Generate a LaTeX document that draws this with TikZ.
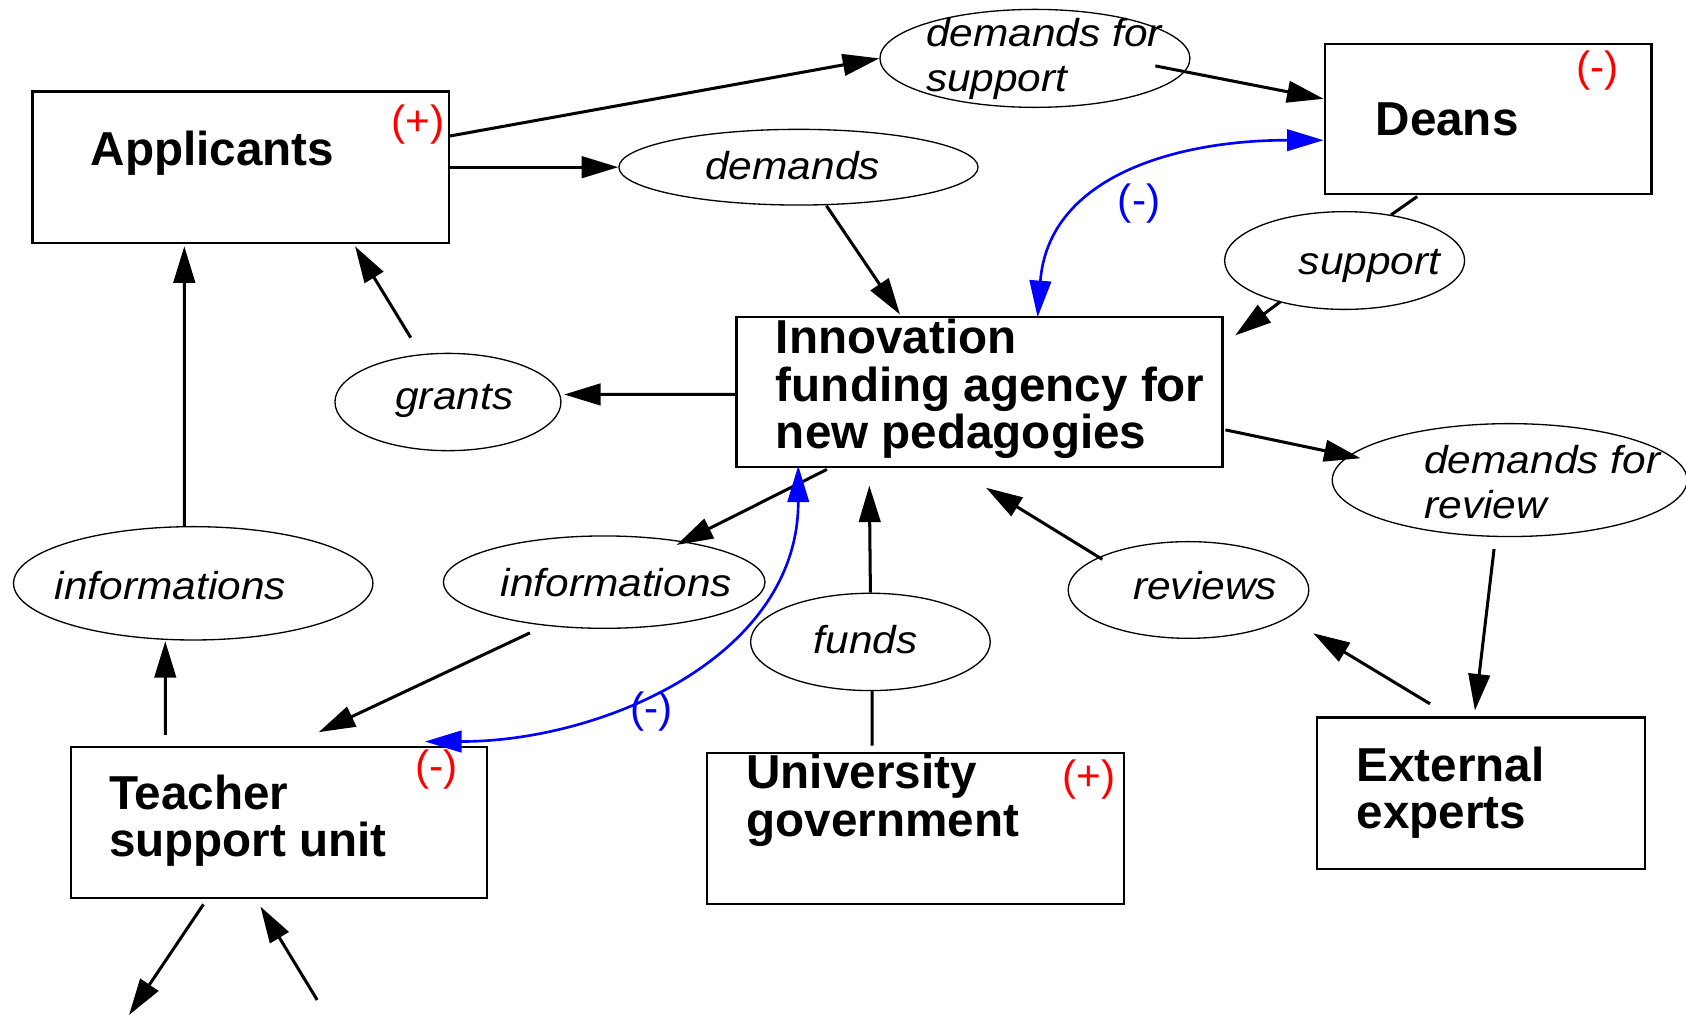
\documentclass[tikz,border=0pt]{standalone}
\usepackage{fontspec}
\setmainfont{Liberation Sans}
\newfontfamily\widesans[FakeStretch=1.09]{Liberation Sans}
\usetikzlibrary{arrows.meta, shapes.geometric, calc}

\newcommand{\actorfont}{\fontsize{12.6}{12.5}\selectfont\bfseries}
\newcommand{\ovalfont}{\widesans\itshape\fontsize{10.3}{11.9}\selectfont}
\newcommand{\signfont}{\fontsize{11.2}{12}\selectfont}

\begin{document}
\begin{tikzpicture}[
  x=0.1mm, y=-0.1mm,
  actor/.style={rectangle, draw, line width=0.6pt, inner sep=0pt},
  actorname/.style={anchor=base west, inner sep=0pt, align=left, font=\actorfont},
  exchange/.style={ellipse, draw, line width=0.35pt, inner sep=0pt},
  exchname/.style={anchor=base west, inner sep=0pt, align=left, font=\ovalfont},
  sign/.style={anchor=north, inner sep=0pt, font=\signfont, text=red},
  fbsign/.style={anchor=north, inner sep=0pt, font=\signfont, text=blue},
  msg/.style={-{Triangle[length=3.4mm, width=2mm]}, line width=0.8pt},
  bare/.style={line width=0.8pt},
  feedback/.style={{Triangle[length=3.4mm, width=2mm]}-{Triangle[length=3.4mm, width=2mm]},
                   blue, line width=0.7pt},
]
\useasboundingbox (0,0) rectangle (1568,944);

% Actors
\node[actor, minimum width=38.72mm, minimum height=14.1mm] (appl) at (223.8,155.5) {};
\node[actor, minimum width=30.4mm, minimum height=13.97mm] (deans) at (1384,110.9) {};
\node[actor, minimum width=45.2mm, minimum height=13.95mm] (innov) at (911,364.3) {};
\node[actor, minimum width=38.69mm, minimum height=14.04mm] (teach) at (259.2,765.2) {};
\node[actor, minimum width=38.72mm, minimum height=14.07mm] (univ) at (851.4,770.4) {};
\node[actor, minimum width=30.54mm, minimum height=14.06mm] (ext) at (1377.3,737.7) {};

% (base of a multi-line name = its last line)
\node[actorname] (appl-t) at ($(appl.north west)+(54.5,70)$) {Applicants};
\node[actorname] (deans-t) at ($(deans.north west)+(47.7,86)$) {Deans};
\node[actorname] (innov-t) at ($(innov.north west)+(37,123.5)$) {Innovation\\funding agency for\\new pedagogies};
\node[actorname] (teach-t) at ($(teach.north west)+(36,102.5)$) {Teacher\\support unit};
\node[actorname] (univ-t) at ($(univ.north west)+(36.8,78.5)$) {University\\government};
\node[actorname] (ext-t) at ($(ext.north west)+(37.4,104.6)$) {External\\experts};

\node[sign] (appl-s) at ($(appl.north east)+(-29.4,12.6)$) {(+)};
\node[sign] (deans-s) at ($(deans.north east)+(-51,7)$) {(-)};
\node[sign] (teach-s) at ($(teach.north east)+(-47.6,2.5)$) {(-)};
\node[sign] (univ-s) at ($(univ.north east)+(-33,6.8)$) {(+)};

% Exchanges
\node[exchange, minimum width=28.83mm, minimum height=9.11mm] (dfs) at (962.5,54.3) {};
\node[exchange, minimum width=33.4mm, minimum height=7.04mm] (dem) at (742.6,155.5) {};
\node[exchange, minimum width=22.32mm, minimum height=9.09mm] (sup) at (1250.5,242.3) {};
\node[exchange, minimum width=21.02mm, minimum height=9.05mm] (gra) at (416.6,373.9) {};
\node[exchange, minimum width=33mm, minimum height=10.5mm] (dfr) at (1404,446.5) {};
\node[exchange, minimum width=33.42mm, minimum height=10.54mm] (infl) at (179.7,542.5) {};
\node[exchange, minimum width=29.91mm, minimum height=8.59mm] (infm) at (561.9,541.4) {};
\node[exchange, minimum width=22.29mm, minimum height=9.05mm] (fun) at (809.5,597) {};
\node[exchange, minimum width=22.38mm, minimum height=8.99mm] (rev) at (1105.3,548.7) {};

\node[exchname] (dfs-t) at ($(dfs.center)+(-102,31)$) {demands for\\support};
\node[exchname] (dem-t) at ($(dem.center)+(-87.3,11.9)$) {demands};
\node[exchname] (sup-t) at ($(sup.center)+(-43.2,13.4)$) {support};
\node[exchname] (gra-t) at ($(gra.center)+(-49.6,6.8)$) {grants};
\node[exchname] (dfr-t) at ($(dfr.center)+(-80,35.5)$) {demands for\\review};
\node[exchname] (infl-t) at ($(infl.center)+(-129.3,15.5)$) {informations};
\node[exchname] (infm-t) at ($(infm.center)+(-96.9,13.5)$) {informations};
\node[exchname] (fun-t) at ($(fun.center)+(-53.5,10.5)$) {funds};
\node[exchname] (rev-t) at ($(rev.center)+(-52.2,9.3)$) {reviews};

% Flows
\draw[msg] ($(appl.east)+(0,-29)$) -- (dfs.west);
\draw[msg] ($(dfs.center)+(112,7)$) -- ($(deans.west)+(0,-19)$);
\draw[msg] (appl.east) -- (dem.west);
\draw[msg] ($(dem.south)+(26,0)$) -- ($(innov.north)+(-74,-1)$);
\draw[bare] ($(deans.south)+(-66,1)$) -- ($(sup.north)+(43.2,3.6)$);
\draw[msg] ($(sup.center)+(-59.7,38.3)$) -- ($(innov.north east)+(10.6,18.5)$);
\draw[msg] ($(innov.west)+(0,2.4)$) -- ($(gra.east)+(2.3,-7)$);
\draw[msg] ($(gra.north)+(-34.6,-14)$) -- ($(appl.south)+(106.4,2)$);
\draw[msg] ($(infl.north)+(-8.3,0)$) -- ($(appl.south)+(-52.4,2)$);
\draw[msg] ($(teach.north)+(-105.5,-10.5)$) -- ($(infl.south)+(-26,0.5)$);
\draw[msg] ($(innov.south)+(-142,1.5)$) -- ($(infm.center)+(67.4,-34.6)$);
\draw[msg] ($(infm.south)+(-69,3.6)$) -- ($(teach.north)+(37.2,-13)$);
\draw[bare] ($(univ.north)+(-40.4,-5.6)$) -- ($(fun.south)+(1.5,0)$);
\draw[msg] (fun.north) -- ($(innov.south)+(-102.5,16.5)$);
\draw[msg] ($(rev.center)+(-80.1,-28.5)$) -- ($(innov.south)+(6,18.5)$);
\draw[msg] ($(innov.east)+(1.6,35.5)$) -- ($(dfr.center)+(-138.6,-20.3)$);
\draw[msg] ($(dfr.south)+(-14.5,11)$) -- ($(ext.north)+(-5.6,-5.5)$);
\draw[msg] ($(ext.north)+(-47.4,-11.8)$) -- ($(rev.center)+(116.1,40.3)$);

% Flows leaving the picture
\coordinate (elsewhere-out) at (120,944);
\coordinate (elsewhere-in) at (295,930);
\draw[msg] ($(teach.south)+(-70,4.6)$) -- (elsewhere-out);
\draw[msg] (elsewhere-in) -- ($(teach.south)+(-17,6.6)$);

% Feedback loops
\draw[feedback] ($(innov.north)+(54,1.5)$) .. controls +(10,-131) and +(-137,0) .. ($(deans.west)+(0,19.5)$)
  node[fbsign, pos=0.5, xshift=0.9mm, yshift=-0.6mm] (dn-s) {(-)};
\draw[feedback] ($(innov.south)+(-168.6,-2)$) .. controls +(0,178) and +(165,0) .. ($(teach.north)+(136,-4.3)$)
  node[fbsign, pos=0.56] (tc-s) {(-)};

\end{tikzpicture}
\end{document}
